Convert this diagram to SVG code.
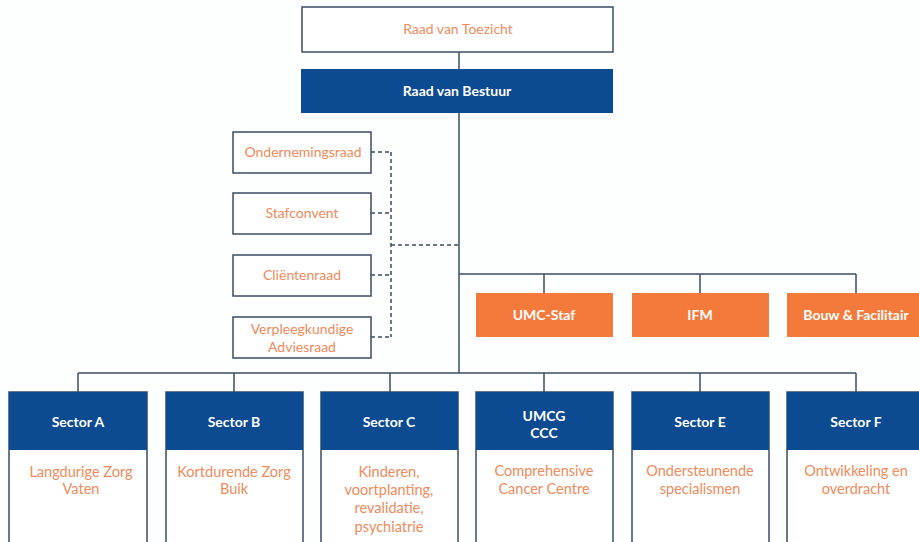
<svg xmlns="http://www.w3.org/2000/svg" width="919" height="542" viewBox="0 0 919 542">
<style>
.bg{fill:#fdfefe}
.box{fill:#ffffff;stroke:#3c4c63;stroke-width:1.5}
.navy{fill:#0c4a92}
.orange{fill:#f47a3c}
.line{stroke:#3c4c63;stroke-width:1.5;fill:none}
.dash{stroke:#3c4c63;stroke-width:1.5;fill:none;stroke-dasharray:4 3}
text{font-family:"Lato","Open Sans","Liberation Sans",sans-serif;text-anchor:middle;font-size:14px}
.wt{fill:#ffffff;font-weight:bold}
.ot{fill:#ef8a5c}
.st{font-size:14.5px}
</style>
<rect class="bg" x="0" y="0" width="919" height="542"/>
<g id="connectors">
<line class="line" x1="459" y1="52" x2="459" y2="69"/>
<line class="line" x1="459" y1="113" x2="459" y2="373"/>
<polyline class="line" points="459,274 856,274"/>
<line class="line" x1="544" y1="274" x2="544" y2="293"/>
<line class="line" x1="700" y1="274" x2="700" y2="293"/>
<line class="line" x1="856" y1="274" x2="856" y2="293"/>
<line class="line" x1="78" y1="373" x2="856" y2="373"/>
<line class="line" x1="78" y1="373" x2="78" y2="392"/>
<line class="line" x1="234" y1="373" x2="234" y2="392"/>
<line class="line" x1="390" y1="373" x2="390" y2="392"/>
<line class="line" x1="544" y1="373" x2="544" y2="392"/>
<line class="line" x1="700" y1="373" x2="700" y2="392"/>
<line class="line" x1="856" y1="373" x2="856" y2="392"/>
<line class="dash" x1="371" y1="152" x2="391" y2="152"/>
<line class="dash" x1="371" y1="213" x2="391" y2="213"/>
<line class="dash" x1="371" y1="275" x2="391" y2="275"/>
<line class="dash" x1="371" y1="337" x2="391" y2="337"/>
<line class="dash" x1="391" y1="152" x2="391" y2="337"/>
<line class="dash" x1="391" y1="245" x2="459" y2="245"/>
</g>
<g id="rvt">
<rect class="box" x="302" y="7" width="311" height="45"/>
<text class="ot" x="458" y="34">Raad van Toezicht</text>
</g>
<g id="rvb">
<rect class="navy" x="301" y="69" width="312" height="44"/>
<text class="wt" x="457" y="96">Raad van Bestuur</text>
</g>
<g id="or">
<rect class="box" x="233" y="132" width="138" height="41"/>
<text class="ot" x="303" y="157">Ondernemingsraad</text>
</g>
<g id="sc">
<rect class="box" x="233" y="193" width="138" height="41"/>
<text class="ot" x="302" y="218">Stafconvent</text>
</g>
<g id="cr">
<rect class="box" x="233" y="255" width="138" height="41"/>
<text class="ot" x="302" y="280">Cliëntenraad</text>
</g>
<g id="va">
<rect class="box" x="233" y="317" width="138" height="41"/>
<text class="ot" x="302" y="334">Verpleegkundige</text>
<text class="ot" x="302" y="352">Adviesraad</text>
</g>
<g id="umcstaf">
<rect class="orange" x="476" y="293" width="137" height="44"/>
<text class="wt" x="544" y="320">UMC-Staf</text>
</g>
<g id="ifm">
<rect class="orange" x="632" y="293" width="137" height="44"/>
<text class="wt" x="700" y="320">IFM</text>
</g>
<g id="bouw">
<rect class="orange" x="787" y="293" width="137" height="44"/>
<text class="wt" x="856" y="320">Bouw &amp; Facilitair</text>
</g>
<g id="sectorA">
<rect class="box" x="9" y="392" width="138" height="160"/>
<rect class="navy" x="9" y="392" width="138" height="58"/>
<text class="wt" x="78" y="427">Sector A</text>
<text class="ot st" x="81" y="477">Langdurige Zorg</text>
<text class="ot st" x="81" y="494">Vaten</text>
</g>
<g id="sectorB">
<rect class="box" x="166" y="392" width="137" height="160"/>
<rect class="navy" x="166" y="392" width="137" height="58"/>
<text class="wt" x="234" y="427">Sector B</text>
<text class="ot st" x="234" y="477">Kortdurende Zorg</text>
<text class="ot st" x="234" y="494">Buik</text>
</g>
<g id="sectorC">
<rect class="box" x="321" y="392" width="137" height="160"/>
<rect class="navy" x="321" y="392" width="137" height="58"/>
<text class="wt" x="389" y="427">Sector C</text>
<text class="ot st" x="389" y="477">Kinderen,</text>
<text class="ot st" x="389" y="495">voortplanting,</text>
<text class="ot st" x="389" y="513">revalidatie,</text>
<text class="ot st" x="389" y="532">psychiatrie</text>
</g>
<g id="umcgccc">
<rect class="box" x="476" y="392" width="137" height="160"/>
<rect class="navy" x="476" y="392" width="137" height="58"/>
<text class="wt" x="544" y="421">UMCG</text>
<text class="wt" x="544" y="438">CCC</text>
<text class="ot st" x="544" y="476">Comprehensive</text>
<text class="ot st" x="544" y="494">Cancer Centre</text>
</g>
<g id="sectorE">
<rect class="box" x="632" y="392" width="137" height="160"/>
<rect class="navy" x="632" y="392" width="137" height="58"/>
<text class="wt" x="700" y="427">Sector E</text>
<text class="ot st" x="700" y="476">Ondersteunende</text>
<text class="ot st" x="700" y="494">specialismen</text>
</g>
<g id="sectorF">
<rect class="box" x="787" y="392" width="140" height="160"/>
<rect class="navy" x="787" y="392" width="140" height="58"/>
<text class="wt" x="856" y="427">Sector F</text>
<text class="ot st" x="856" y="476">Ontwikkeling en</text>
<text class="ot st" x="856" y="494">overdracht</text>
</g>
</svg>
